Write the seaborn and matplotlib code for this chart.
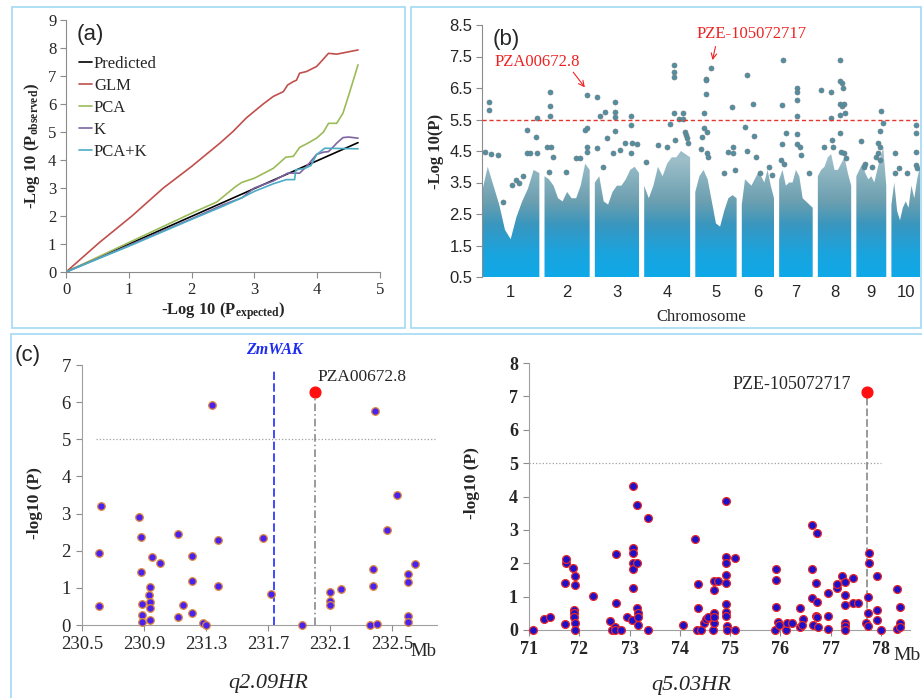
import numpy as np
import pandas as pd
import matplotlib
matplotlib.use('Agg')
import matplotlib.pyplot as plt
import matplotlib.transforms as mtransforms
from matplotlib.colors import LinearSegmentedColormap
from matplotlib.patches import Rectangle, PathPatch
from matplotlib.path import Path
import seaborn as sns

sns.set_style('ticks')
plt.rcParams['font.family'] = ['Liberation Serif', 'DejaVu Serif']
plt.rcParams['mathtext.fontset'] = 'custom'
plt.rcParams['mathtext.rm'] = 'Liberation Serif'
plt.rcParams['mathtext.bf'] = 'Liberation Serif:bold'
plt.rcParams['mathtext.it'] = 'Liberation Serif:italic'

# ---- (a) QQ plot ----
pred_x = [0, 4.65]
pred_y = [0, 4.62]
glm_x = [0, 0.53, 1.05, 1.55, 2.0, 2.45, 2.66, 2.87, 3.14, 3.30, 3.46, 3.53, 3.62, 3.67, 3.72, 3.83, 3.99, 4.04, 4.18, 4.31, 4.65]
glm_y = [0, 1.05, 2.0, 3.0, 3.77, 4.6, 5.02, 5.5, 6.0, 6.27, 6.44, 6.68, 6.80, 6.85, 7.10, 7.16, 7.34, 7.46, 7.81, 7.78, 7.93]
pca_x = [0, 1.0, 2.0, 2.4, 2.7, 2.8, 3.0, 3.3, 3.5, 3.62, 3.72, 3.85, 3.99, 4.1, 4.18, 4.31, 4.41, 4.5, 4.65]
pca_y = [0, 1.05, 2.1, 2.5, 3.05, 3.2, 3.35, 3.7, 4.1, 4.13, 4.45, 4.6, 4.78, 5.0, 5.31, 5.31, 5.67, 6.3, 7.4]
k_x = [0, 1.0, 2.0, 2.5, 2.8, 3.0, 3.3, 3.53, 3.72, 3.83, 3.99, 4.1, 4.18, 4.26, 4.31, 4.41, 4.5, 4.65]
k_y = [0, 0.95, 1.9, 2.4, 2.65, 3.0, 3.25, 3.53, 3.53, 3.77, 4.2, 4.28, 4.3, 4.48, 4.6, 4.8, 4.82, 4.78]
pk_x = [0, 1.0, 2.0, 2.5, 2.8, 3.0, 3.3, 3.51, 3.64, 3.66, 3.8, 3.9, 3.99, 4.12, 4.65]
pk_y = [0, 0.92, 1.88, 2.35, 2.65, 2.88, 3.15, 3.3, 3.3, 3.65, 3.7, 3.8, 4.19, 4.42, 4.4]
qq_names = ['Predicted', 'GLM', 'PCA', 'K', 'PCA+K']
qq_colors = ['#000000', '#c0504d', '#9bbb59', '#8064a2', '#4bacc6']

# ---- (b) Manhattan plot ----
chrom_names = ['1', '2', '3', '4', '5', '6', '7', '8', '9', '10']
chrom_len = [301, 237, 232, 241, 217, 169, 176, 175, 157, 150]
chrom_gap = 27
# top of the dense cloud of markers, read at 0, 0.1, ..., 1 of each chromosome
env_frac = [0, 0.1, 0.2, 0.3, 0.4, 0.5, 0.6, 0.7, 0.8, 0.9, 1.0]
env_top = [
    [3.2, 4.0, 3.4, 2.8, 2.0, 1.7, 2.4, 2.9, 3.3, 3.9, 3.8],
    [3.7, 3.6, 3.4, 3.0, 2.9, 3.2, 3.0, 3.0, 3.4, 4.1, 3.9],
    [3.5, 3.7, 2.9, 2.8, 3.2, 3.4, 3.4, 3.6, 3.9, 4.0, 3.8],
    [3.4, 3.0, 3.4, 4.0, 3.7, 4.1, 4.3, 4.3, 4.5, 4.4, 4.3],
    [3.2, 3.7, 3.9, 3.6, 2.9, 2.2, 2.1, 2.6, 3.0, 3.1, 3.0],
    [2.8, 3.6, 3.5, 3.4, 3.6, 3.8, 3.7, 3.5, 3.9, 3.4, 3.0],
    [3.6, 3.9, 3.4, 3.5, 3.5, 3.9, 3.7, 3.0, 2.9, 2.8, 2.7],
    [3.7, 3.9, 4.0, 4.3, 4.4, 3.9, 3.9, 4.1, 4.3, 3.8, 3.4],
    [3.7, 3.9, 4.1, 3.8, 3.6, 3.7, 3.5, 3.9, 4.3, 4.6, 3.4],
    [2.8, 3.5, 2.6, 2.3, 2.7, 2.9, 2.7, 3.4, 3.0, 3.6, 4.0],
]
hit_chr = [1]*16 + [2]*15 + [3]*18 + [4]*16 + [5]*17 + [6]*9 + [7]*15 + [8]*19 + [9]*12 + [10]*9
hit_frac = [0.13, 0.13, 0.96, 0.79, 0.94, 0.79, 0.83, 0.95, 0.06, 0.15, 0.28, 0.59, 0.64, 0.72, 0.52, 0.36,
            0.12, 0.12, 0.12, 0.93, 0.93, 0.90, 0.06, 0.15, 0.19, 0.70, 0.78, 0.93, 0.95, 0.10, 0.48,
            0.04, 0.46, 0.23, 0.11, 0.46, 0.46, 0.82, 0.82, 0.46, 0.28, 0.04, 0.69, 0.84, 0.95, 0.42, 0.57, 0.82, 0.19,
            0.64, 0.64, 0.64, 0.64, 0.85, 0.76, 0.85, 0.57, 0.88, 0.90, 0.68, 0.94, 0.96, 0.05, 0.31, 0.50,
            0.38, 0.26, 0.26, 0.26, 0.88, 0.20, 0.20, 0.28, 0.16, 0.15, 0.28, 0.30, 0.78, 0.90, 0.92, 0.96, 0.70,
            0.17, 0.35, 0.10, 0.39, 0.17, 0.45, 0.58, 0.83, 0.93,
            0.12, 0.54, 0.54, 0.54, 0.08, 0.54, 0.20, 0.54, 0.08, 0.54, 0.61, 0.66, 0.07, 0.14, 0.90,
            0.66, 0.66, 0.73, 0.76, 0.08, 0.39, 0.66, 0.73, 0.78, 0.81, 0.39, 0.66, 0.66, 0.19, 0.42, 0.44, 0.68, 0.78, 0.83,
            0.84, 0.89, 0.78, 0.15, 0.73, 0.80, 0.73, 0.67, 0.78, 0.29, 0.51, 0.24,
            0.87, 0.87, 0.11, 0.87, 0.11, 0.28, 0.87, 0.89, 0.55]
hit_logp = [6.07, 5.80, 5.54, 5.17, 4.95, 4.45, 4.45, 4.45, 4.48, 4.40, 4.37, 3.58, 3.50, 3.70, 3.42, 2.89,
            6.36, 5.94, 5.62, 6.29, 5.24, 5.17, 4.64, 4.64, 4.32, 4.27, 4.27, 4.64, 4.48, 3.84, 3.82,
            6.22, 6.04, 5.75, 5.62, 5.75, 5.59, 5.62, 5.33, 5.15, 4.90, 4.60, 4.74, 4.74, 4.72, 4.45, 4.53, 4.43, 4.00,
            7.23, 7.02, 6.86, 5.70, 5.72, 5.52, 5.52, 5.36, 5.11, 5.00, 4.85, 4.90, 4.74, 4.14, 4.70, 4.64,
            7.12, 6.80, 6.75, 6.30, 5.90, 5.70, 5.22, 5.11, 4.95, 4.56, 4.43, 4.32, 4.48, 4.43, 4.64, 3.90, 3.80,
            6.91, 5.98, 5.27, 4.98, 4.51, 4.32, 3.80, 4.00, 3.74,
            7.39, 6.51, 6.38, 6.12, 5.96, 5.62, 5.06, 5.03, 4.72, 4.71, 4.64, 4.37, 4.21, 4.10, 3.79,
            7.39, 6.72, 6.67, 6.51, 6.44, 6.38, 5.98, 5.93, 5.98, 5.72, 5.54, 5.64, 5.06, 4.64, 4.85, 4.64, 4.48, 4.43, 4.27,
            5.77, 5.38, 5.15, 4.82, 4.74, 4.64, 4.43, 4.32, 4.21, 4.10, 4.00, 4.00,
            5.33, 5.06, 4.45, 4.48, 3.79, 3.95, 4.05, 3.95, 3.79]
sig_line = 5.5

# ---- (c) regional plots ----
q2_pos = [230.61, 230.61, 230.62, 230.87, 230.88, 230.88, 230.89, 230.89, 230.89, 230.93, 230.94, 230.94,
          230.94, 230.94, 230.95, 231.00, 231.12, 231.12, 231.15, 231.21, 231.21, 231.21, 231.28, 231.30,
          231.34, 231.38, 231.38, 231.67, 231.72, 231.92, 232.10, 232.10, 232.10, 232.17, 232.36, 232.38,
          232.38, 232.39, 232.40, 232.47, 232.53, 232.60, 232.60, 232.60, 232.60, 232.65]
q2_logp = [0.50, 1.95, 3.21, 2.92, 2.37, 1.42, 0.57, 0.27, 0.08, 0.80, 1.03, 0.61,
           0.47, 0.14, 1.83, 1.68, 2.44, 0.22, 0.54, 1.85, 1.18, 0.32, 0.05, 0.00,
           5.91, 2.28, 1.06, 2.35, 0.84, 0.00, 0.88, 0.64, 0.53, 0.97, 0.00, 1.51,
           1.06, 5.77, 0.04, 2.56, 3.50, 1.37, 1.15, 0.25, 0.08, 1.64]
q2_peak = (232.00, 6.28)
zmwak_pos = 231.74

q5_pos = [71.07, 71.29, 71.41, 71.72, 71.72, 71.73, 71.73, 71.88, 71.90, 71.90, 71.90, 71.91, 71.92, 71.92, 71.92,
          72.27, 72.61, 72.66, 72.71, 72.72, 72.73, 72.73, 72.84, 72.94, 73.05, 73.06, 73.07, 73.07, 73.07,
          73.07, 73.07, 73.14, 73.14, 73.15, 73.16, 73.16, 73.17, 73.36, 73.36, 74.07, 74.31, 74.35, 74.36,
          74.36, 74.43, 74.48, 74.53, 74.56, 74.66, 74.68, 74.68, 74.68, 74.68, 74.68, 74.76, 74.92, 74.92,
          74.92, 74.92, 74.92, 74.92, 74.92, 74.92, 74.93, 74.93, 75.09, 75.09, 75.89, 75.91, 75.91, 75.91,
          75.96, 75.98, 76.12, 76.14, 76.24, 76.39, 76.40, 76.45, 76.44, 76.64, 76.64, 76.64, 76.65, 76.71,
          76.71, 76.73, 76.73, 76.73, 76.75, 76.95, 76.95, 76.95, 77.12, 77.13, 77.22, 77.28, 77.28, 77.28,
          77.28, 77.28, 77.28, 77.45, 77.45, 77.54, 77.70, 77.75, 77.77, 77.77, 77.75, 77.75, 77.93, 77.93,
          77.93, 78.00, 78.33, 78.33, 78.38, 78.39, 78.39]
q5_logp = [0.00, 0.34, 0.40, 0.18, 1.42, 2.00, 2.14, 1.86, 0.60, 0.50, 0.38, 0.20, 0.00, 1.62, 1.34,
           1.02, 0.26, 0.00, 0.10, 0.00, 2.28, 0.82, 0.00, 0.38, 0.30, 1.26, 4.30, 2.45, 2.30,
           2.00, 1.82, 3.75, 2.00, 0.65, 0.50, 0.38, 0.15, 3.35, 0.00, 0.15, 2.72, 0.00, 1.38,
           0.65, 0.00, 0.20, 0.32, 0.40, 0.00, 0.20, 0.50, 0.40, 1.20, 1.48, 1.48, 3.88, 2.20,
           2.00, 1.65, 1.40, 0.78, 0.55, 0.42, 0.12, 0.00, 2.16, 0.00, 0.00, 1.84, 1.50, 0.70,
           0.25, 0.16, 0.00, 0.20, 0.20, 0.10, 0.65, 0.32, 0.15, 3.14, 1.82, 0.95, 0.15, 1.42,
           0.42, 2.92, 0.85, 0.38, 0.10, 1.12, 0.42, 0.04, 1.25, 1.38, 1.62, 1.45, 1.05, 0.75,
           0.22, 0.12, 0.00, 1.56, 0.82, 0.82, 0.20, 0.12, 2.30, 2.00, 1.00, 0.50, 1.62, 0.60,
           0.30, 0.00, 1.22, 0.02, 0.70, 0.20, 0.08]
q5_peak = (77.73, 7.13)

# ---------------------------------------------------------------
fig = plt.figure(figsize=(9.22, 6.98), dpi=100)
W, H = 922, 698


def axes_px(left, top, right, bottom):
    return fig.add_axes([left / W, 1 - bottom / H, (right - left) / W, (bottom - top) / H])


border = '#a9dcf4'
fig.add_artist(Rectangle((12 / W, 1 - 328 / H), 393 / W, 321 / H, transform=fig.transFigure,
                         fill=False, edgecolor=border, lw=1.3))
fig.add_artist(Rectangle((411 / W, 1 - 328 / H), 510 / W, 321 / H, transform=fig.transFigure,
                         fill=False, edgecolor=border, lw=1.3))
fig.add_artist(Rectangle((11 / W, -0.02), 1.0, 1 - 334 / H + 0.02, transform=fig.transFigure,
                         fill=False, edgecolor=border, lw=1.3))

spine_gray = '#8c8c8c'

# ---- (a) ----
ax1 = axes_px(66, 20, 380, 272)
qq = pd.concat([
    pd.DataFrame({'x': pred_x, 'y': pred_y, 'model': 'Predicted'}),
    pd.DataFrame({'x': glm_x, 'y': glm_y, 'model': 'GLM'}),
    pd.DataFrame({'x': pca_x, 'y': pca_y, 'model': 'PCA'}),
    pd.DataFrame({'x': k_x, 'y': k_y, 'model': 'K'}),
    pd.DataFrame({'x': pk_x, 'y': pk_y, 'model': 'PCA+K'}),
])
sns.lineplot(data=qq, x='x', y='y', hue='model', hue_order=qq_names, palette=qq_colors,
             sort=False, estimator=None, lw=1.2, ax=ax1)
ax1.set_xlim(0, 5)
ax1.set_ylim(0, 9)
ax1.set_xticks(range(0, 6))
ax1.set_yticks(range(0, 10))
ax1.tick_params(labelsize=12, length=4, color=spine_gray, pad=3)
for s in ['top', 'right']:
    ax1.spines[s].set_visible(False)
for s in ['left', 'bottom']:
    ax1.spines[s].set_color(spine_gray)
ax1.set_xlabel(r'-Log 10 (P$_{\mathbf{expected}}$)', fontsize=12, fontweight='bold', labelpad=2)
ax1.set_ylabel(r'-Log 10 (P$_{\mathbf{observed}}$)', fontsize=12, fontweight='bold', labelpad=4)
ax1.legend(loc='upper left', bbox_to_anchor=(0.02, 0.885), frameon=False, fontsize=12,
           handlelength=0.8, handletextpad=0.1, labelspacing=0.36, borderaxespad=0)
ax1.text(0.035, 0.985, '(a)', transform=ax1.transAxes, fontsize=16, family='Liberation Sans',
         va='top', ha='left')

# ---- (b) ----
ax2 = axes_px(482, 25, 920, 277)
starts = []
pos = 0
for L in chrom_len:
    starts.append(pos)
    pos += L + chrom_gap
total = starts[-1] + chrom_len[-1]

paths = []
for i, L in enumerate(chrom_len):
    xs = [starts[i] + f * L for f in env_frac]
    verts = [(xs[0], 0.5)] + list(zip(xs, env_top[i])) + [(xs[-1], 0.5), (xs[0], 0.5)]
    codes = [Path.MOVETO] + [Path.LINETO] * (len(verts) - 2) + [Path.CLOSEPOLY]
    paths.append(Path(verts, codes))
clip = PathPatch(Path.make_compound_path(*paths), facecolor='none', edgecolor='none',
                 transform=ax2.transData)
ax2.add_patch(clip)

# colour of the marker cloud: cyan at the bottom, grey-teal and thinner towards the top
yy = np.linspace(0.5, 8.5, 400)
grad = LinearSegmentedColormap.from_list(
    'man', [(0, '#0fa9e8'), (0.09, '#19a4de'), (0.19, '#3598c4'), (0.3, '#528fa3'), (1, '#5a8b98')])
rgba = grad((yy - 0.5) / 8.0)
rgba[:, 3] = np.clip(1 - (yy - 2.2) / 2.0 * 0.42, 0.58, 1)
im = ax2.imshow(rgba[:, None, :], extent=[0, total, 0.5, 8.5], origin='lower', aspect='auto',
                interpolation='bilinear', zorder=1)
im.set_clip_path(clip)

hits = pd.DataFrame({'chr': hit_chr, 'frac': hit_frac, 'logp': hit_logp})
hits['pos'] = [starts[c - 1] + f * chrom_len[c - 1] for c, f in zip(hits['chr'], hits['frac'])]
sns.scatterplot(data=hits, x='pos', y='logp', color='#4f8fa2', edgecolor='#6f7d84', s=13,
                linewidth=0.5, ax=ax2, zorder=3)
ax2.axhline(sig_line, color='#e8352c', ls=(0, (3, 2)), lw=1.0, zorder=4)

ax2.set_xlim(0, total)
ax2.set_ylim(0.5, 8.5)
yt = [0.5, 1.5, 2.5, 3.5, 4.5, 5.5, 6.5, 7.5, 8.5]
ax2.set_yticks(yt, [f'{v:.1f}' for v in yt], fontsize=12, fontfamily='Liberation Sans')
ax2.set_xticks([s + L / 2 for s, L in zip(starts, chrom_len)], chrom_names, fontsize=12,
               fontfamily='Liberation Sans')
ax2.tick_params(axis='y', length=4, color=spine_gray, pad=3)
ax2.tick_params(axis='x', length=0, pad=6)
for s in ['top', 'right', 'bottom']:
    ax2.spines[s].set_visible(False)
ax2.spines['left'].set_color(spine_gray)
ax2.set_xlabel('Chromosome', fontsize=12, labelpad=6)
ax2.set_ylabel('-Log 10(P)', fontsize=12, fontweight='bold', labelpad=4)
ax2.text(0.025, 0.985, '(b)', transform=ax2.transAxes, fontsize=16, family='Liberation Sans',
         va='top', ha='left')

red = '#ee2222'
pza_pos = starts[1] + 0.93 * chrom_len[1]
pze_pos = starts[4] + 0.38 * chrom_len[4]
ax2.text(289, 7.32, 'PZA00672.8', color=red, fontsize=12, ha='center', va='center')
ax2.annotate('', xy=(pza_pos, 6.45), xytext=(470, 7.07),
             arrowprops=dict(arrowstyle='->', color=red, lw=0.8))
ax2.text(1412, 8.21, 'PZE-105072717', color=red, fontsize=12, ha='center', va='center')
ax2.annotate('', xy=(pze_pos + 5, 7.3), xytext=(1228, 7.9),
             arrowprops=dict(arrowstyle='->', color=red, lw=0.8))

# ---- (c) left ----
ax3 = axes_px(82, 365, 437, 625)
q2 = pd.DataFrame({'pos': q2_pos, 'logp': q2_logp})
ax3.axhline(5, xmin=0.04, color='#a0a0a0', ls=':', lw=0.9)
ax3.axvline(zmwak_pos, ymax=0.985, color='#1f2bff', ls=(0, (5, 2)), lw=1.2)
ax3.plot([q2_peak[0], q2_peak[0]], [0, q2_peak[1]], color='#7f7f7f', ls=(0, (5, 2, 1, 2)), lw=1.1)
sns.scatterplot(data=q2, x='pos', y='logp', color='#4a22f0', edgecolor='#e08a3a', s=30,
                linewidth=0.9, ax=ax3, zorder=3, clip_on=False)
ax3.scatter([q2_peak[0]], [q2_peak[1]], s=60, color='#ff1010', zorder=4, clip_on=False)
ax3.set_xlim(230.5, 232.79)
ax3.set_ylim(0, 7)
ax3.set_xticks([230.5, 230.9, 231.3, 231.7, 232.1, 232.5])
ax3.set_yticks(range(0, 8))
ax3.tick_params(labelsize=13.5, length=4, color=spine_gray, pad=4)
for s in ['top', 'right']:
    ax3.spines[s].set_visible(False)
for s in ['left', 'bottom']:
    ax3.spines[s].set_color('#a0a0a0')
ax3.set_xlabel('q2.09HR', fontsize=16, style='italic', va='center')
ax3.xaxis.set_label_coords(0.524, -0.225)
ax3.set_ylabel('-log10 (P)', fontsize=12.5, fontweight='bold', va='center')
ax3.yaxis.set_label_coords(-0.132, 0.47)
blend3 = mtransforms.blended_transform_factory(ax3.transData, ax3.transAxes)
ax3.text(232.62, -0.101, 'Mb', transform=blend3, fontsize=13.5, ha='left', va='center')
ax3.text(zmwak_pos, 1.058, 'ZmWAK', transform=blend3, fontsize=11.5, color='#1d2cf0',
         fontweight='bold', style='italic', ha='center', va='center')
ax3.text(232.02, 6.67, 'PZA00672.8', fontsize=12.5, ha='left', va='center')
fig.text(15 / W, 1 - 355 / H, '(c)', fontsize=16, family='Liberation Sans', va='center', ha='left')

# ---- (c) right ----
ax4 = axes_px(529, 363, 910, 630)
q5 = pd.DataFrame({'pos': q5_pos, 'logp': q5_logp})
ax4.plot([71, 78.0], [5, 5], color='#a0a0a0', ls=':', lw=0.9)
ax4.plot([q5_peak[0], q5_peak[0]], [0, q5_peak[1]], color='#7f7f7f', ls=(0, (5, 2)), lw=1.1)
sns.scatterplot(data=q5, x='pos', y='logp', color='#1c10c8', edgecolor='#e82828', s=32,
                linewidth=0.9, ax=ax4, zorder=3, clip_on=False)
ax4.scatter([q5_peak[0]], [q5_peak[1]], s=60, color='#ff1010', zorder=4, clip_on=False)
ax4.set_xlim(71, 78.58)
ax4.set_ylim(0, 8)
ax4.set_xticks(range(71, 79))
ax4.set_yticks(range(0, 9))
ax4.tick_params(labelsize=13, length=4, color=spine_gray, pad=4)
for lab in ax4.get_xticklabels() + ax4.get_yticklabels():
    lab.set_fontweight('bold')
for s in ['top', 'right']:
    ax4.spines[s].set_visible(False)
for s in ['left', 'bottom']:
    ax4.spines[s].set_color('#a0a0a0')
ax4.set_xlabel('q5.03HR', fontsize=16, style='italic', va='center')
ax4.xaxis.set_label_coords(0.427, -0.206)
ax4.set_ylabel('-log10 (P)', fontsize=12.5, fontweight='bold', va='center')
ax4.yaxis.set_label_coords(-0.15, 0.55)
blend4 = mtransforms.blended_transform_factory(ax4.transData, ax4.transAxes)
ax4.text(78.24, -0.094, 'Mb', transform=blend4, fontsize=14, ha='left', va='center')
ax4.text(77.4, 7.35, 'PZE-105072717', fontsize=13, ha='right', va='center')

fig.savefig('out.png', dpi=100)
